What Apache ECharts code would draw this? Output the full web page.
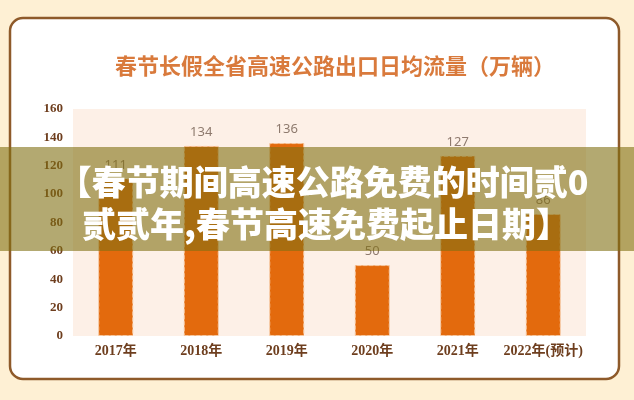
<!DOCTYPE html>
<html>
<head>
<meta charset="utf-8">
<script src="https://cdn.jsdelivr.net/npm/echarts@6/dist/echarts.min.js"></script>
<style>
html,body{margin:0;padding:0;background:#FEF0D4;}
#main{width:634px;height:400px;}
</style>
</head>
<body>
<div id="main"></div>
<script>
var categories = ['2017年','2018年','2019年','2020年','2021年','2022年(预计)'];
var values = [111, 134, 136, 50, 127, 86];
var yTicks = [0, 20, 40, 60, 80, 100, 120, 140, 160];
var titleText = '春节长假全省高速公路出口日均流量（万辆）';
var overlayLine1 = '【春节期间高速公路免费的时间贰0';
var overlayLine2 = '贰贰年,春节高速免费起止日期】';

var chart = echarts.init(document.getElementById('main'));
var serif = '"Liberation Serif","DejaVu Serif","Noto Sans CJK SC",serif';
chart.setOption({
  backgroundColor: '#FEF0D4',
  animation: false,
  title: {
    text: titleText,
    left: 110,
    top: 50,
    textStyle: {
      fontFamily: '"Noto Sans CJK SC",serif',
      fontWeight: 'bold',
      fontSize: 22,
      color: '#D97A3C'
    }
  },
  grid: {
    left: 73, right: 48, top: 109, bottom: 64,
    show: true,
    backgroundColor: '#FDF0E7',
    borderWidth: 0
  },
  xAxis: {
    type: 'category',
    data: categories,
    axisLine: {show: false},
    axisTick: {show: false},
    axisLabel: {
      interval: 0,
      margin: 8,
      fontFamily: serif,
      fontWeight: 'bold',
      fontSize: 14,
      color: '#6E3E1E'
    }
  },
  yAxis: {
    type: 'value',
    min: yTicks[0],
    max: yTicks[yTicks.length - 1],
    interval: 20,
    axisLine: {show: false},
    axisTick: {show: false},
    splitLine: {show: false},
    axisLabel: {
      margin: 10,
      fontFamily: serif,
      fontWeight: 'bold',
      fontSize: 13,
      color: '#6E3E1E'
    }
  },
  series: [{
    type: 'bar',
    data: values,
    barWidth: 35,
    itemStyle: {
      color: '#E36A0D',
      borderColor: '#F6C8A0',
      borderWidth: 1,
      borderType: 'dashed'
    },
    label: {
      show: true,
      position: 'top',
      distance: 7,
      fontFamily: '"Noto Sans","Liberation Sans",sans-serif',
      fontSize: 13,
      color: '#8E7A6E'
    }
  }],
  graphic: [
    {
      type: 'rect',
      z: -10,
      silent: true,
      shape: {x: 10, y: 18, width: 609, height: 361, r: 13},
      style: {fill: '#FFFFFF', stroke: '#8E5A2A', lineWidth: 2.5}
    },
    {
      type: 'rect',
      z: 100,
      silent: true,
      shape: {x: 0, y: 147, width: 634, height: 104},
      style: {fill: 'rgba(128,112,18,0.6)'}
    },
    {
      type: 'text',
      z: 101,
      silent: true,
      x: 323, y: 182,
      style: {
        text: overlayLine1,
        textAlign: 'center',
        textVerticalAlign: 'middle',
        fill: '#FFFFFF',
        fontFamily: '"Noto Sans CJK SC",sans-serif',
        fontWeight: 900,
        fontSize: 34
      }
    },
    {
      type: 'text',
      z: 101,
      silent: true,
      x: 326, y: 224,
      style: {
        text: overlayLine2,
        textAlign: 'center',
        textVerticalAlign: 'middle',
        fill: '#FFFFFF',
        fontFamily: '"Noto Sans CJK SC",sans-serif',
        fontWeight: 900,
        fontSize: 34
      }
    }
  ]
});
</script>
</body>
</html>
